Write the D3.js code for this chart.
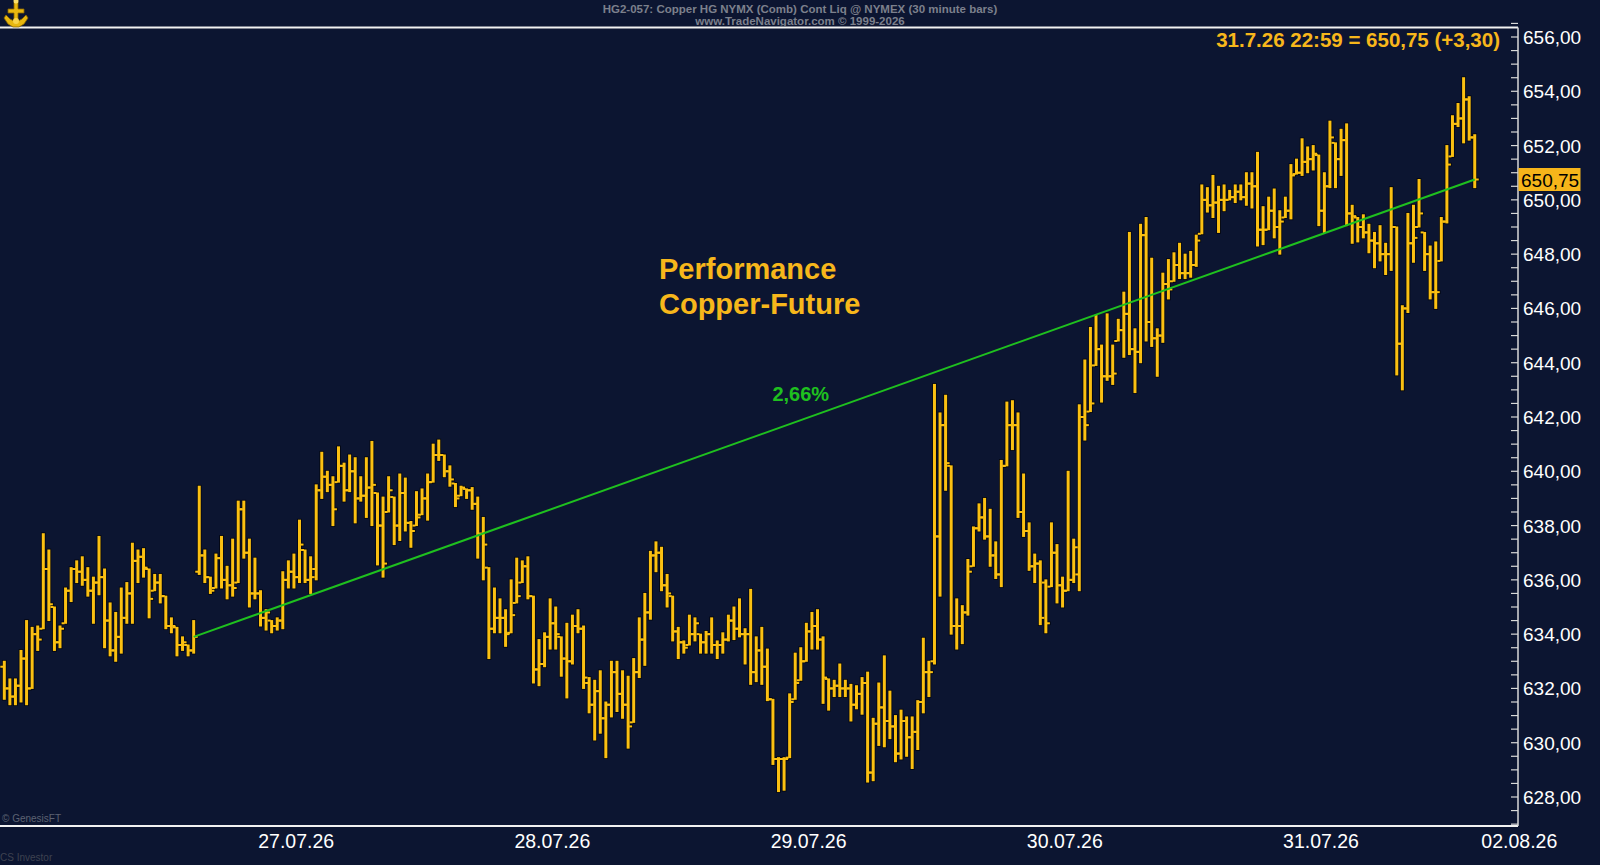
<!DOCTYPE html>
<html>
<head>
<meta charset="utf-8">
<script src="https://cdn.jsdelivr.net/npm/d3@7"></script>
<style>
  html, body { margin: 0; padding: 0; background: #0c1531; }
  svg { display: block; }
  text { font-family: "Liberation Sans", Arial, sans-serif; }
</style>
</head>
<body>
<script>
// 30 minute bars, [open, high, low, close]
const bars = [
  [632.8,633.0,631.6,632.0],[632.0,632.35,631.4,631.7],[631.7,632.35,631.4,632.1],[632.1,633.4,631.5,633.1],[633.1,634.5,631.4,632.0],
  [632.0,634.25,632.0,634.0],[634.0,634.3,633.4,633.8],[634.2,637.7,634.2,636.4],[636.4,637.1,634.5,635.1],[635.0,635.0,633.4,633.7],
  [633.7,634.3,633.5,634.2],[634.4,635.7,634.4,635.6],[635.6,636.45,635.2,636.4],[636.4,636.7,635.9,636.3],[636.3,636.85,635.8,636.0],
  [636.0,636.45,635.4,635.6],[635.6,636.1,634.4,635.9],[635.9,637.6,635.45,636.1],[636.1,636.4,633.5,634.5],[634.5,635.15,633.2,633.4],
  [633.4,634.8,633.0,633.9],[633.9,635.7,633.3,634.6],[634.6,635.9,634.4,635.5],[635.5,637.35,634.4,636.7],[636.7,637.1,635.9,636.85],
  [636.85,637.15,636.1,636.45],[636.4,636.4,634.6,635.3],[635.6,636.2,635.6,635.9],[635.9,636.2,635.15,635.4],[635.4,635.4,634.2,634.3],
  [634.3,634.6,634.05,634.3],[634.25,634.25,633.2,633.6],[633.6,633.9,633.4,633.7],[633.6,633.6,633.2,633.4],[633.4,634.5,633.3,633.9],
  [636.3,639.45,636.2,636.9],[636.9,637.1,635.9,636.1],[636.1,636.1,635.5,635.6],[635.7,636.95,635.7,636.8],[636.8,637.6,635.7,636.0],
  [636.0,636.5,635.3,635.8],[635.8,637.5,635.4,635.7],[635.9,638.9,635.9,638.6],[638.6,638.9,636.8,637.0],[637.0,637.5,635.0,635.5],
  [635.5,636.8,635.3,635.5],[635.5,635.6,634.3,634.6],[634.6,634.9,634.15,634.8],[634.5,634.5,634.05,634.3],[634.3,634.6,634.15,634.5],
  [634.5,636.3,634.2,636.0],[636.0,636.7,635.7,636.3],[636.3,636.95,635.7,636.1],[636.1,638.2,635.9,637.3],[637.1,637.1,635.9,636.0],
  [636.0,636.85,635.5,636.1],[636.4,639.5,636.0,639.3],[639.3,640.7,639.0,639.8],[639.8,640.0,639.25,639.5],[639.5,639.8,638.0,638.6],
  [639.6,640.9,639.6,640.2],[640.2,640.3,638.9,639.3],[639.3,640.6,639.25,640.0],[640.0,640.5,638.1,639.0],[639.0,639.8,638.9,639.1],
  [639.1,640.5,638.3,639.4],[639.4,641.1,638.0,639.5],[639.2,639.2,636.55,638.0],[638.0,639.05,636.1,636.6],[638.5,639.8,638.5,639.3],
  [639.05,639.05,637.3,638.0],[638.0,639.9,637.45,639.2],[639.2,639.75,637.8,638.1],[638.1,638.15,637.2,637.8],[638.0,639.25,638.0,638.3],
  [638.4,639.35,638.4,639.0],[639.0,639.9,638.2,639.6],[639.6,641.0,639.6,640.6],[640.6,641.15,640.4,640.6],[640.6,640.6,639.8,640.0],
  [640.0,640.2,639.45,639.7],[639.55,639.55,638.7,639.0],[639.1,639.45,639.1,639.4],[639.35,639.35,639.0,639.3],[639.3,639.4,638.6,638.8],
  [638.8,639.05,636.8,637.7],[637.7,638.3,636.0,637.3],[636.45,636.45,633.1,634.2],[634.2,635.7,634.05,634.6],[634.6,635.3,634.05,634.6],
  [634.6,634.9,633.55,634.0],[634.05,636.0,634.05,634.7],[635.15,636.8,635.15,635.4],[635.9,636.7,635.9,636.5],[636.5,636.85,635.3,635.4],
  [635.4,635.4,632.2,632.7],[632.7,633.8,632.1,632.9],[632.9,634.05,632.8,633.9],[633.9,635.3,633.45,634.4],[634.4,635.0,633.45,634.0],
  [633.9,633.9,632.45,633.1],[633.1,634.4,631.65,633.0],[633.0,634.7,632.9,634.3],[634.3,634.9,634.05,634.2],[634.2,634.3,632.0,632.4],
  [632.2,632.4,631.1,631.4],[631.4,632.3,630.1,631.9],[631.9,632.65,630.35,630.9],[630.9,631.5,629.45,631.4],[631.4,633.0,630.95,632.6],
  [632.6,633.0,631.15,631.8],[631.8,632.65,630.9,631.4],[631.4,632.45,629.8,630.6],[630.75,633.1,630.75,632.6],[632.6,634.6,632.4,633.8],
  [633.8,635.5,632.85,634.8],[634.8,637.05,634.55,636.9],[636.9,637.4,636.3,637.0],[637.0,637.2,635.6,635.8],[635.8,636.2,635.0,635.5],
  [635.4,635.4,633.75,634.1],[634.1,634.25,633.1,633.7],[633.7,633.75,633.3,633.5],[633.6,634.7,633.6,634.0],[634.0,634.6,633.75,634.4],
  [634.0,634.0,633.3,633.7],[633.7,634.1,633.3,634.0],[634.0,634.6,633.3,633.6],[633.6,633.75,633.1,633.6],[633.6,634.05,633.3,633.8],
  [633.8,634.7,633.75,634.5],[634.5,635.0,633.8,634.2],[634.2,635.3,633.9,634.0],[634.0,634.2,632.9,634.0],[634.0,635.65,632.15,632.6],
  [632.6,633.9,632.25,633.4],[633.4,634.25,632.15,632.8],[632.8,633.45,631.55,631.6],[631.6,631.6,629.2,629.4],[629.4,629.45,628.2,629.4],
  [629.4,629.45,628.25,629.4],[629.45,631.8,629.45,631.5],[631.6,633.3,631.6,632.2],[632.3,633.5,632.3,633.0],[633.0,634.4,633.0,634.1],
  [634.1,634.8,633.45,634.3],[634.3,634.9,633.45,633.8],[633.8,633.9,631.45,632.4],[632.35,632.35,631.2,632.0],[632.0,632.3,631.7,632.1],
  [632.1,632.9,631.7,632.0],[632.0,632.3,631.7,632.0],[632.0,632.15,630.8,631.4],[631.4,632.1,631.25,631.8],[631.8,632.4,631.05,632.2],
  [632.2,632.6,628.55,628.9],[628.9,630.9,628.6,630.7],[630.7,632.2,629.9,631.3],[631.3,633.2,629.85,630.8],[630.8,631.9,630.15,630.6],
  [630.6,631.0,629.3,629.6],[629.6,631.2,629.4,630.8],[630.8,630.95,629.5,630.2],[630.2,630.95,629.05,630.4],[630.4,631.55,629.75,631.5],
  [631.5,633.85,631.1,632.6],[632.6,633.0,631.7,632.6],[633.0,643.2,632.9,637.6],[637.6,642.15,635.4,641.7],[641.7,642.8,639.3,640.3],
  [640.2,640.2,634.0,634.3],[634.3,635.3,633.45,634.3],[634.3,635.05,633.65,634.8],[634.8,636.75,634.7,636.3],[636.5,637.95,636.5,637.9],
  [637.9,638.8,637.8,638.3],[638.3,639.0,637.5,637.6],[637.6,638.6,636.5,636.9],[636.9,637.4,636.05,636.2],[636.2,640.4,635.75,640.2],
  [640.2,642.55,640.2,641.7],[641.7,642.6,640.8,641.7],[641.7,642.15,638.3,638.5],[638.5,639.9,637.6,637.8],[637.8,638.1,636.35,636.5],
  [636.5,636.95,635.9,636.6],[636.6,636.7,634.35,634.6],[635.9,636.0,634.05,634.4],[635.75,638.1,635.75,637.0],[637.0,637.3,635.15,635.8],
  [635.8,636.1,635.0,635.6],[635.6,640.0,635.6,636.0],[636.0,637.5,635.9,637.2],[636.2,642.45,635.6,642.0],[642.0,644.1,641.15,641.7],
  [642.2,645.3,642.2,642.5],[643.9,645.75,643.9,644.5],[644.5,644.65,642.55,643.5],[643.5,645.8,643.35,643.5],[643.5,644.65,643.2,643.6],
  [644.8,645.6,644.8,645.2],[645.2,646.6,644.2,645.8],[645.8,648.8,644.3,644.5],[644.5,645.25,642.9,644.4],[644.4,649.1,644.0,648.7],
  [648.7,649.35,644.8,645.5],[645.5,647.85,644.6,644.9],[644.9,645.25,643.5,645.0],[645.0,647.3,644.75,646.9],[646.9,647.8,646.35,646.7],
  [647.0,648.05,647.0,647.6],[647.6,648.4,647.1,647.3],[647.3,648.0,647.1,647.3],[647.3,648.1,647.15,647.6],[647.6,648.7,647.55,648.5],
  [648.75,650.55,648.75,650.0],[650.0,650.45,649.55,649.8],[649.8,650.9,649.35,649.9],[649.9,650.5,648.8,650.0],[650.0,650.55,649.6,650.0],
  [650.0,650.35,650.0,650.1],[650.1,650.55,649.9,650.3],[650.3,650.55,650.0,650.1],[650.1,651.0,649.8,650.6],[650.6,651.0,649.7,650.5],
  [650.5,651.75,648.3,648.9],[648.9,649.75,648.35,648.9],[648.9,650.1,648.9,649.6],[649.6,650.4,648.6,649.0],[649.0,649.6,648.0,649.2],
  [649.35,650.1,649.35,649.6],[649.6,651.3,649.3,650.9],[650.95,651.5,650.95,651.0],[651.0,652.25,650.9,651.4],[651.4,651.95,651.0,651.5],
  [651.5,652.0,651.1,651.7],[651.65,651.65,649.05,649.6],[649.6,651.0,648.8,650.5],[650.5,652.9,650.45,652.3],[652.1,652.1,650.45,651.5],
  [651.5,652.6,650.9,652.2],[652.2,652.8,649.05,649.5],[649.5,649.8,648.4,649.4],[649.35,649.35,648.45,649.0],[649.0,649.45,648.6,648.8],
  [648.8,649.1,648.05,648.5],[648.5,648.8,647.5,648.4],[648.4,649.05,647.75,648.0],[648.0,648.4,647.25,648.0],[648.0,650.45,647.4,649.0],
  [649.0,649.0,643.55,644.7],[644.7,646.1,643.0,646.0],[646.0,649.5,645.85,648.4],[648.4,649.8,647.7,648.6],[649.0,650.75,649.0,649.5],
  [648.8,648.8,647.4,648.0],[648.0,648.3,646.35,646.6],[646.6,648.45,646.0,646.6],[647.75,649.35,647.75,649.2],[649.2,652.0,649.15,651.3],
  [651.6,653.1,651.6,652.8],[652.8,653.55,652.7,653.0],[653.0,654.5,652.1,653.7],[653.7,653.8,652.2,652.3],[652.3,652.4,650.45,650.75]
];

const priceTicks = [628, 630, 632, 634, 636, 638, 640, 642, 644, 646, 648, 650, 652, 654, 656];
const dateLabels = ["27.07.26", "28.07.26", "29.07.26", "30.07.26", "31.07.26", "02.08.26"];
const dateTickBars = [52.4, 98.4, 144.4, 190.4, 236.4, 272];

// performance line: close of bar 34 to close of last bar
const trendFrom = 34;
const trendTo = 264;
const trendLabel = "2,66%";
const trendLabelAt = [143, 642.85];

const titleLines = ["Performance", "Copper-Future"];
const lastQuote = "31.7.26 22:59 = 650,75 (+3,30)";
const lastPrice = 650.75;
const headerLines = [
  "HG2-057:  Copper HG NYMX (Comb) Cont Liq @ NYMEX  (30 minute bars)",
  "www.TradeNavigator.com \u00a9 1999-2026"
];

const width = 1600;
const height = 865;
const plotTop = 27.5;
const plotBottom = 826;
const axisX = 1518;

const gold = "#fbc012";
const orange = "#f7b71b";
const green = "#1fc01f";

const de = d3.formatLocale({ decimal: ",", thousands: ".", grouping: [3], currency: ["", ""] });
const fmt = de.format(".2f");

function main() {
  const svg = d3.select("body")
    .append("svg")
    .attr("width", width)
    .attr("height", height);

  svg.append("rect")
    .attr("width", width)
    .attr("height", height)
    .attr("fill", "#0c1531");

  const x = d3.scaleLinear().domain([0, 272]).range([4.3, 1519.3]);
  const y = d3.scaleLinear().domain([628, 656]).range([797, 37]);

  // frame
  svg.append("line")
    .attr("x1", 0).attr("x2", axisX)
    .attr("y1", plotTop).attr("y2", plotTop)
    .attr("stroke", "#f2f2f2").attr("stroke-width", 2);
  svg.append("line")
    .attr("x1", 0).attr("x2", axisX)
    .attr("y1", plotBottom).attr("y2", plotBottom)
    .attr("stroke", "#f2f2f2").attr("stroke-width", 2);

  // right axis with half-point ticks
  const yAxis = svg.append("g");
  yAxis.append("line")
    .attr("x1", axisX).attr("x2", axisX)
    .attr("y1", plotTop).attr("y2", plotBottom)
    .attr("stroke", "#d8d8d8").attr("stroke-width", 1.5);
  yAxis.selectAll("line.minor")
    .data(d3.range(627, 656.6, 0.5))
    .join("line")
    .attr("class", "minor")
    .attr("x1", axisX - 7).attr("x2", axisX)
    .attr("y1", d => y(d)).attr("y2", d => y(d))
    .attr("stroke", "#d8d8d8").attr("stroke-width", 1.2);
  yAxis.selectAll("text")
    .data(priceTicks)
    .join("text")
    .attr("x", axisX + 5)
    .attr("y", d => y(d) + 7)
    .attr("fill", "#ffffff")
    .attr("font-size", 19)
    .text(d => fmt(d));

  // last price tag
  svg.append("rect")
    .attr("x", axisX + 0.5)
    .attr("y", y(lastPrice) - 11.5)
    .attr("width", 62)
    .attr("height", 23)
    .attr("fill", "#f6b51a");
  svg.append("text")
    .attr("x", axisX + 3)
    .attr("y", y(lastPrice) + 7)
    .attr("fill", "#000")
    .attr("font-size", 19)
    .text(fmt(lastPrice));

  // date axis
  svg.append("g")
    .selectAll("text")
    .data(dateLabels)
    .join("text")
    .attr("x", (d, i) => x(dateTickBars[i]))
    .attr("y", 848)
    .attr("text-anchor", "middle")
    .attr("fill", "#ffffff")
    .attr("font-size", 19.5)
    .text(d => d);

  // ohlc bars: dark outline pass, then gold pass
  const shapes = d => [
    { x: x(d.i) - 1.5, y: y(d.h) - 0.5, w: 3, h: y(d.l) - y(d.h) + 1 },
    { x: x(d.i) - 4, y: y(d.o) - 1, w: 3, h: 2 },
    { x: x(d.i) + 1, y: y(d.c) - 1, w: 3, h: 2 }
  ];
  const rows = bars.map(([o, h, l, c], i) => ({ i, o, h, l, c }));
  const parts = rows.flatMap(shapes);

  svg.append("g")
    .selectAll("rect")
    .data(parts)
    .join("rect")
    .attr("x", d => d.x).attr("y", d => d.y)
    .attr("width", d => d.w).attr("height", d => d.h)
    .attr("fill", "none")
    .attr("stroke", "#03060f")
    .attr("stroke-width", 1.6);

  svg.append("g")
    .selectAll("rect")
    .data(parts)
    .join("rect")
    .attr("x", d => d.x).attr("y", d => d.y)
    .attr("width", d => d.w).attr("height", d => d.h)
    .attr("fill", gold);

  // performance line
  svg.append("line")
    .attr("x1", x(trendFrom)).attr("y1", y(bars[trendFrom][3]))
    .attr("x2", x(trendTo)).attr("y2", y(bars[trendTo][3]))
    .attr("stroke", green)
    .attr("stroke-width", 2);

  svg.append("text")
    .attr("x", x(trendLabelAt[0]))
    .attr("y", y(trendLabelAt[1]) + 7)
    .attr("text-anchor", "middle")
    .attr("fill", green)
    .attr("font-size", 20)
    .attr("font-weight", "bold")
    .text(trendLabel);

  // title
  svg.append("g")
    .selectAll("text")
    .data(titleLines)
    .join("text")
    .attr("x", 659)
    .attr("y", (d, i) => 279 + i * 34.5)
    .attr("fill", orange)
    .attr("font-size", 29)
    .attr("font-weight", "bold")
    .text(d => d);

  // last quote
  svg.append("text")
    .attr("x", 1500)
    .attr("y", 47)
    .attr("text-anchor", "end")
    .attr("fill", orange)
    .attr("font-size", 20.5)
    .attr("font-weight", "bold")
    .text(lastQuote);

  // header
  svg.append("g")
    .selectAll("text")
    .data(headerLines)
    .join("text")
    .attr("x", 800)
    .attr("y", (d, i) => 13 + i * 12)
    .attr("text-anchor", "middle")
    .attr("fill", "#7c808c")
    .attr("font-size", 11.5)
    .attr("font-weight", "bold")
    .attr("font-family", "'Liberation Sans Narrow', 'Liberation Sans', Arial, sans-serif")
    .text(d => d);

  // footer notes
  svg.append("text")
    .attr("x", 2).attr("y", 822)
    .attr("fill", "#5c6272")
    .attr("font-size", 10)
    .text("\u00a9 GenesisFT");
  svg.append("text")
    .attr("x", 0).attr("y", 861)
    .attr("fill", "#3e4250")
    .attr("font-size", 10)
    .attr("font-family", "'Liberation Mono', monospace")
    .text("CS Investor");

  // small golden logo
  const logo = svg.append("g")
    .attr("transform", "translate(16, 15)");
  logo.append("path")
    .attr("d", "M-2,-13 L2,-13 L2,-6 L8,-6 L8,-2 L2,-2 L2,6 L6,4 L10,0 L12,3 L8,9 L3,12 L-3,12 L-8,9 L-12,3 L-10,0 L-6,4 L-2,6 L-2,-2 L-8,-2 L-8,-6 L-2,-6 Z")
    .attr("fill", "#e8b70f")
    .attr("stroke", "#8a6400")
    .attr("stroke-width", 0.8);
  logo.append("circle")
    .attr("cx", 0).attr("cy", -14).attr("r", 2.5)
    .attr("fill", "#fbe06a");
  logo.append("circle")
    .attr("cx", 0).attr("cy", 6).attr("r", 3)
    .attr("fill", "#f9d44a");
}

main();
</script>
</body>
</html>
